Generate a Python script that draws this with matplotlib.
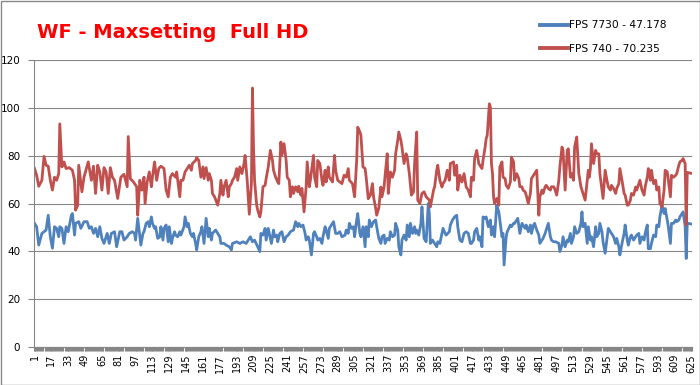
import numpy as np
import matplotlib
matplotlib.use("Agg")
from matplotlib import pyplot as plt
from matplotlib.lines import Line2D
from matplotlib.patches import Rectangle

title = "WF - Maxsetting  Full HD"
labels = ["FPS 7730 - 47.178", "FPS 740 - 70.235"]
n_frames = 625
tick_frames = list(range(1, 626, 16))

red_frames = [
    1, 3, 5, 8, 10, 12, 14, 16, 18, 20, 22, 24, 25, 27, 29, 31, 34, 37, 39, 40, 42, 43, 46, 48, 52, 55,
    57, 59, 61, 63, 65, 67, 69, 71, 73, 75, 77, 80, 83, 86, 89, 90, 92, 95, 98, 99,
    101, 103, 105, 106, 108, 110, 112, 113, 115, 117, 119, 121, 123, 124, 126, 128, 130, 132, 135, 136,
    139, 140, 142, 144, 147, 148, 150, 151, 154, 155, 157, 159, 161, 162, 164, 166, 167, 169, 170, 172,
    175, 177, 178, 180, 181, 183, 185, 186, 188, 189, 191, 193, 194, 196, 198, 200, 201, 203,
    205, 207, 208, 209, 210, 212, 213, 215, 216, 218, 220, 221, 223, 225, 227, 228, 230, 232, 233, 235,
    236, 238, 240, 241, 243, 244, 246, 247, 249, 251, 252, 254, 255, 257, 259, 260, 262, 263, 266, 267,
    269, 270, 272, 274, 275, 277, 278, 280, 281, 284, 286, 287, 289, 291, 293, 295, 297, 299, 300, 303,
    305, 307, 308, 310,
    311, 313, 315, 316, 318, 320, 322, 323, 325, 326, 328, 330, 331, 333, 334, 336, 337, 339, 341, 343,
    344, 346, 347, 349, 350, 352, 354, 355, 357, 359, 361, 362, 364, 365, 367, 369, 371, 373, 376, 377,
    380, 381, 383, 384, 386, 388, 389, 391, 393, 395, 396, 399, 400, 402, 403, 405, 407, 409, 411, 413, 415,
    416, 418, 419, 421, 423, 424, 426, 427, 429, 430, 431, 433, 434, 435, 436, 437, 438, 440, 442, 443,
    445, 446, 448, 449, 451, 453, 454, 456, 457, 459, 461, 462, 464, 465, 467, 468, 470, 472, 473, 475,
    476, 478, 480, 481, 483, 484, 486, 487, 489, 491, 492, 494, 495, 497, 499, 500, 502, 503, 505, 507,
    508, 510, 511, 513, 514, 516, 518, 520,
    521, 522, 524, 526, 527, 528, 529, 530, 532, 534, 535, 537, 538, 540, 541, 543, 545, 546, 548, 549,
    551, 553, 554, 556, 557, 559, 561, 562, 564, 565, 567, 568, 570, 572, 573, 575, 576, 578, 580, 581,
    583, 584, 586, 587, 589, 591, 592, 594, 595, 597, 599, 600, 602, 603, 605, 606, 608, 610, 611, 613,
    614, 616, 617, 619, 620, 621, 623, 625,
]
red_fps = [
    74.6, 71.8, 67.2, 69.7, 79.7, 76, 75.6, 69.7, 65.6, 71, 69.7, 72.5, 93.3, 75.3, 77.4, 74.6, 75, 73.9, 69.7, 57.2, 59.3, 76, 64.9, 71, 77.4, 69.7,
    75.6, 64.2, 76, 73.2, 65.6, 75, 73.2, 64.2, 75, 71, 69.7, 62.1, 71, 72.2, 67, 88, 70.4, 69, 67, 55.1,
    69.7, 65.6, 71, 60, 69, 73.2, 67, 71, 77.4, 69.7, 74.6, 75.6, 75, 74.6, 65.6, 62.8, 71, 72.5, 71, 73.2,
    62.8, 69.7, 69.7, 73.2, 75.3, 76, 73.9, 76.7, 78, 79.2, 78, 71, 75.3, 70.4, 75, 69.7, 72.5, 69.7, 64.2, 62.8,
    59.3, 64.2, 69.7, 63.5, 66.9, 69.7, 62.8, 66.9, 68.3, 69.7, 71, 74.6, 69.7, 75.3, 72.5, 76.7, 80.1, 69.7,
    55.5, 68.3, 108.3, 83.6, 69.7, 59.3, 57.2, 54.4, 56.5, 67, 67.6, 70.4, 75.3, 82.2, 78, 73.9, 71, 69, 68.3, 85.7,
    80.1, 85, 78, 71, 69.7, 62.8, 67, 64.2, 67, 64.9, 67.2, 63.5, 66.3, 56.5, 67, 77.4, 67, 69.7, 80.1, 71,
    67, 78, 76.7, 69.7, 67.6, 73.9, 69, 75.3, 71, 69, 80.1, 73.9, 69.7, 69, 68.3, 71.8, 71, 74.6, 69.7, 68.3,
    62.8, 78, 91.9, 90,
    88.5, 75.3, 74.6, 71, 62, 63.5, 68.3, 62.8, 58.1, 55.1, 58.1, 66.9, 62.8, 66.9, 71.8, 80.8, 64.2, 73.2, 71, 73.9,
    80.8, 86.4, 89.9, 86.4, 83.6, 76.7, 80.8, 79.4, 72.5, 63.5, 64.9, 76.7, 89.9, 61.4, 60, 64.2, 64.9, 62.8, 61.4, 58.6,
    65.6, 66.9, 73.9, 76, 69.7, 66.9, 68.3, 69.7, 73.9, 69.7, 76.7, 77.4, 71.8, 76, 65.6, 71.8, 69, 72.5, 66.9, 65.6, 62.8,
    71, 69.7, 78.8, 82.2, 76.7, 76, 74.6, 78, 83.6, 87.1, 88.5, 101.7, 100.3, 76.7, 72.5, 62.8, 60, 62.1, 59.3, 75.3,
    77.4, 71, 70.4, 67.6, 66.3, 69, 79.4, 77.4, 69.7, 72.5, 70.4, 67, 67, 65.6, 64.9, 63.5, 60, 64.2, 70.4, 71.8,
    72.5, 73.9, 55.1, 62.8, 65.6, 64.2, 67, 67.6, 66.3, 65.6, 67, 67, 66.3, 63.5, 69.7, 75.3, 83.6, 82.2, 65.6, 82.2,
    82.9, 71, 72.5, 69.7, 83.6, 87.8, 72.5, 67,
    65.6, 64.2, 61.4, 69.7, 73.9, 71, 74.6, 85, 76.7, 82.2, 80.8, 80.8, 72.5, 65.6, 62.1, 73.9, 69, 66.9, 65.6, 67.6,
    66.3, 64.2, 66.3, 68.3, 74.6, 69.7, 64.2, 63.5, 59.3, 59.3, 61.4, 64.2, 63.5, 66.9, 65.6, 68.3, 69.7, 65.6, 63.5, 66.9,
    71, 74.6, 69.7, 73.9, 68.3, 69.7, 65.6, 66.9, 60, 58.6, 65.6, 73.9, 73.2, 69.7, 62.8, 71.8, 71, 71.8, 72.5, 76,
    77.4, 78, 78.8, 76.7, 51, 73, 72.8, 72.6,
]

blue_frames = [
    1, 3, 5, 8, 10, 12, 14, 16, 18, 20, 22, 24, 25, 27, 29, 31, 33, 36, 37, 39, 40, 43, 45, 48, 51, 53,
    55, 57, 59, 61, 63, 65, 67, 70, 72, 74, 77, 79, 82, 84, 86, 89, 91, 94, 96, 97, 99,
    101, 102, 104, 105, 107, 109, 110, 112, 113, 115, 116, 118, 120, 121, 123, 124, 126, 128, 129, 131,
    132, 134, 135, 137, 139, 140, 143, 144, 146, 147, 149, 151, 152, 154, 155, 157, 159, 160, 162, 164,
    166, 167, 169, 170, 173, 175, 177, 178, 181, 183, 186, 188, 189, 193, 196, 199, 202, 204,
    206, 208, 210, 213, 215, 216, 218, 220, 221, 223, 224, 226, 228, 229, 231, 232, 234, 236, 238, 240,
    242, 244, 247, 249, 251, 252, 254, 256, 258, 259, 261, 262, 264, 266, 267, 269, 270, 272, 274, 275,
    277, 278, 280, 281, 284, 285, 287, 289, 291, 293, 296, 297, 299, 300, 302, 304, 305, 307, 308, 310,
    311, 313, 315, 316, 318, 319, 321, 323, 325, 326, 328, 330, 331, 333, 334, 336, 338, 339, 341, 343,
    344, 346, 347, 349, 350, 352, 354, 355, 357, 358, 360, 362, 363, 364, 366, 368, 369, 371, 373, 375,
    376, 377, 379, 381, 383, 384, 386, 388, 389, 391, 392, 395, 396, 398, 400, 402, 403, 405, 407, 409,
    411, 413, 415,
    416, 418, 419, 421, 423, 424, 426, 427, 429, 430, 432, 434, 435, 437, 438, 440, 442, 443, 445, 446,
    447, 449, 450, 453, 454, 456, 457, 460, 462, 464, 465, 467, 468, 470, 472, 473, 475, 476, 478, 480,
    481, 483, 484, 486, 487, 489, 491, 492, 494, 496, 499, 500, 502, 503, 505, 507, 508, 510, 511, 513,
    514, 516, 518, 520,
    521, 522, 524, 526, 527, 529, 530, 532, 534, 535, 537, 538, 540, 541, 543, 545, 546, 548, 549, 551,
    553, 554, 556, 557, 559, 561, 562, 564, 565, 567, 568, 570, 572, 573, 575, 576, 578, 580, 581, 583,
    584, 586, 587, 589, 591, 592, 594, 595, 597, 599, 600, 602, 603, 605, 606, 608, 610, 611, 613, 614,
    616, 617, 619, 620, 621, 623, 625,
]
blue_fps = [
    51.7, 50.3, 42.6, 47.5, 48.2, 48.9, 55.1, 46.1, 41.3, 50.3, 49.6, 46.1, 50.3, 49.6, 43.3, 50.3, 48.2, 55.1, 55.8, 46.8, 51.7, 52.4, 49.6, 52.4, 52.4, 49.6,
    50.3, 47.5, 49.6, 46.1, 50.3, 45.4, 43.3, 47.5, 43.3, 47.5, 48.2, 41.9, 48.2, 48.2, 44.7, 46.1, 47.5, 48.2, 47.5, 44.7, 53.8,
    46.1, 42.6, 47.5, 48.2, 51.7, 52.4, 50.3, 54.4, 51.7, 49.6, 50.3, 45.4, 46.1, 50.3, 44.7, 49.6, 51, 44, 50.3, 43.3,
    45.4, 48.2, 46.8, 46.1, 48.2, 46.8, 50.3, 54.4, 50.3, 51.7, 47.5, 46.1, 47.5, 43.3, 40.6, 46.1, 48.2, 50.3, 43.3, 53.8,
    46.1, 49.6, 44.7, 47.5, 48.9, 47.5, 46.1, 43.3, 43.3, 42.6, 41.9, 40.6, 43.3, 44, 43.3, 44, 43.3, 44.7,
    46.1, 44, 44.7, 41.9, 39.9, 47.5, 46.8, 49.6, 44.7, 49.6, 47.5, 43.3, 48.9, 46.1, 46.8, 44, 47.5, 48.2, 44, 46.1,
    46.8, 48.2, 48.9, 52.4, 50.3, 51.7, 50.3, 51, 47.5, 44.7, 46.1, 44.7, 38.5, 47.5, 48.2, 46.1, 44.7, 45.4, 43.3, 46.1,
    50.3, 48.9, 45.4, 49.6, 51.7, 52.4, 47.5, 47.5, 48.2, 46.1, 46.8, 48.9, 47.5, 51.7, 49.6, 50.3, 46.1, 53.1, 55.8, 47.5,
    46.1, 50.3, 41.9, 50.3, 46.1, 53.1, 50.3, 52.4, 53.1, 50.3, 45.4, 43.3, 46.1, 46.8, 43.3, 45.4, 44.7, 48.2, 46.1, 46.8,
    51.7, 48.9, 41.9, 38.5, 44.7, 46.8, 44.7, 51, 46.1, 51.7, 47.5, 50.3, 47.5, 48.9, 46.8, 51.7, 58.6, 45.4, 44, 60,
    55.8, 43.3, 44.7, 43.3, 41.9, 44, 43.3, 47.5, 49.6, 47.5, 46.8, 48.2, 51, 53.1, 54.4, 55.1, 50.3, 44.7, 44, 47.5,
    48.2, 47.5, 43.3,
    43.3, 44.7, 48.2, 49.6, 44.7, 46.1, 41.9, 54.4, 53.8, 54.4, 50.3, 53.1, 46.8, 50.3, 46.1, 59.3, 56.5, 53.1, 46.1, 47.5,
    34.3, 46.1, 48.2, 51, 50.3, 51.7, 51.7, 53.8, 47.5, 51.7, 51, 49.6, 51, 48.2, 51, 47.5, 51, 51.7, 48.9, 46.8,
    43.3, 44.7, 45.4, 47.5, 48.9, 51.7, 46.1, 44.7, 44, 44, 43.3, 39.9, 42.6, 46.1, 41.9, 44.7, 44, 47.5, 43.3, 46.1,
    50.3, 47.5, 48.2, 51.7,
    56.5, 50.3, 51.7, 43.3, 50.3, 44.7, 46.1, 41.9, 50.3, 46.1, 47.5, 51.7, 48.2, 44, 39.2, 46.1, 49.6, 48.2, 47.5, 46.1,
    43.3, 45.4, 41.9, 38.5, 43.3, 47.5, 51, 44.7, 42.6, 46.1, 46.8, 44.7, 46.1, 46.8, 47.5, 43.3, 46.1, 44.7, 47.5, 51,
    41.1, 41.1, 43.3, 46.8, 46.1, 51, 50.3, 54.4, 59.3, 55.8, 57.9, 53.1, 50.3, 43.3, 51.7, 51.7, 53.1, 52.4, 53.1, 54.4,
    55.8, 56.5, 50.5, 37, 51.7, 51.6, 51.4,
]

blue = "#4F81BD"
red = "#C0504D"
grid = "#868686"

fig = plt.figure(figsize=(7, 3.85), dpi=100)
ax = fig.add_axes([34 / 700, 1 - 347 / 385, 658 / 700, 287 / 385])

ax.plot(blue_frames, blue_fps, color=blue, lw=2.0, solid_joinstyle="round")
ax.plot(red_frames, red_fps, color=red, lw=2.0, solid_joinstyle="round")

ax.set_xlim(0.5, n_frames + 0.5)
ax.set_ylim(0, 120)
ax.set_yticks(range(0, 121, 20))
ax.yaxis.grid(True, color=grid, lw=0.8)
ax.set_axisbelow(True)

ax.set_xticks(tick_frames)
ax.set_xticklabels([str(t) for t in tick_frames], rotation=90, fontsize=7)
ax.set_xticks(np.arange(0.5, n_frames + 1), minor=True)
ax.tick_params(axis="x", which="both", length=3, width=0.8, color=grid, pad=2)
ax.tick_params(axis="y", length=4, width=0.8, color=grid, labelsize=7.5, pad=6)

for side in ["top", "right"]:
    ax.spines[side].set_visible(False)
for side in ["left", "bottom"]:
    ax.spines[side].set_color(grid)
    ax.spines[side].set_linewidth(0.8)

fig.text(37 / 700, 1 - 38 / 385, title, color="#FF0000", fontsize=14, fontweight="bold",
         va="baseline", ha="left")

handles = [Line2D([], [], color=blue, lw=2.8), Line2D([], [], color=red, lw=2.8)]
fig.legend(handles, labels, loc="upper left", bbox_to_anchor=(535 / 700, 1 - 15 / 385),
           frameon=False, fontsize=7.7, handlelength=2.6, handletextpad=0.1,
           labelspacing=1.25, borderpad=0)

fig.patches.append(Rectangle((0.5 / 700, 0.5 / 385), 1 - 1 / 700, 1 - 1 / 385,
                             transform=fig.transFigure, fill=False, edgecolor="#888888", lw=1))

fig.savefig("out.png", dpi=100)
